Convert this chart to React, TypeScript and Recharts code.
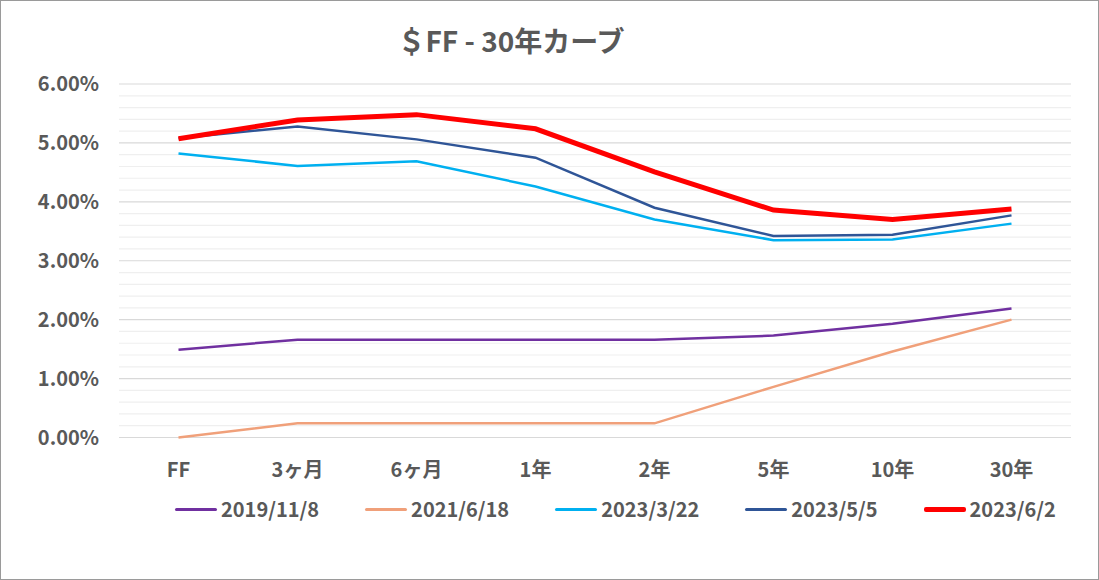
import { LineChart, Line, XAxis, YAxis, CartesianGrid, ReferenceLine } from 'recharts'

// Tenors along the curve
const categories = ['FF', '3ヶ月', '6ヶ月', '1年', '2年', '5年', '10年', '30年']

// Yields in % per date
const y20191108 = [1.49, 1.66, 1.66, 1.66, 1.66, 1.73, 1.93, 2.19]
const y20210618 = [0.0, 0.24, 0.24, 0.24, 0.24, 0.86, 1.46, 2.0]
const y20230322 = [4.82, 4.61, 4.69, 4.26, 3.7, 3.35, 3.36, 3.63]
const y20230505 = [5.08, 5.28, 5.06, 4.75, 3.9, 3.42, 3.44, 3.77]
const y20230602 = [5.07, 5.39, 5.48, 5.24, 4.51, 3.86, 3.7, 3.88]

const majorTicks = [0, 1, 2, 3, 4, 5, 6]
const minorTicks = [0.2, 0.4, 0.6, 0.8, 1.2, 1.4, 1.6, 1.8, 2.2, 2.4, 2.6, 2.8, 3.2, 3.4, 3.6, 3.8, 4.2, 4.4, 4.6, 4.8, 5.2, 5.4, 5.6, 5.8]

const SERIES = [
  { key: 's1', name: '2019/11/8', values: y20191108, color: '#7030a0', width: 2.5 },
  { key: 's2', name: '2021/6/18', values: y20210618, color: '#f0a07a', width: 2.5 },
  { key: 's3', name: '2023/3/22', values: y20230322, color: '#00b0f0', width: 2.5 },
  { key: 's4', name: '2023/5/5', values: y20230505, color: '#2f5597', width: 2.5 },
  { key: 's5', name: '2023/6/2', values: y20230602, color: '#ff0000', width: 5 },
]

const FONT = '"Noto Sans CJK JP", "Noto Sans", sans-serif'
const TEXT = '#595959'

export default function App() {
  const data = categories.map((c, i) => {
    const row: Record<string, string | number> = { tenor: c }
    SERIES.forEach((s) => {
      row[s.key] = s.values[i]
    })
    return row
  })

  return (
    <div
      style={{
        position: 'relative',
        width: 1099,
        height: 580,
        boxSizing: 'border-box',
        border: '1px solid #9a9a9a',
        background: '#fff',
        fontFamily: FONT,
      }}
    >
      <style>{'body{margin:0}'}</style>

      {/* Title */}
      <div
        style={{
          position: 'absolute',
          left: 0,
          top: 25,
          width: 1020,
          textAlign: 'center',
          fontSize: 28,
          lineHeight: '28px',
          fontWeight: 'bold',
          color: TEXT,
        }}
      >
        ＄FF - 30年カーブ
      </div>

      <LineChart
        width={1097}
        height={578}
        data={data}
        margin={{ top: 83, right: 27, left: 0, bottom: 101.5 }}
      >
        <CartesianGrid vertical={false} stroke="#d9d9d9" strokeWidth={1.2} />
        {minorTicks.map((v) => (
          <ReferenceLine key={v} y={v} stroke="#efefef" strokeWidth={1.2} />
        ))}
        <XAxis
          dataKey="tenor"
          axisLine={false}
          tickLine={false}
          tickSize={0}
          tickMargin={25}
          height={40}
          interval={0}
          padding={{ left: 59.5, right: 59.5 }}
          tick={{ fill: TEXT, fontSize: 20, fontWeight: 'bold', fontFamily: FONT }}
        />
        <YAxis
          width={118}
          domain={[0, 6]}
          ticks={majorTicks}
          axisLine={false}
          tickLine={false}
          tickSize={0}
          tickMargin={20}
          tick={{ fill: TEXT, fontSize: 20, fontWeight: 'bold', fontFamily: FONT }}
          tickFormatter={(v) => `${Number(v).toFixed(2)}%`}
        />
        {SERIES.map((s) => (
          <Line
            key={s.key}
            dataKey={s.key}
            name={s.name}
            type="linear"
            stroke={s.color}
            strokeWidth={s.width}
            dot={false}
            activeDot={false}
            isAnimationActive={false}
          />
        ))}
      </LineChart>

      {/* Legend */}
      <div
        style={{
          position: 'absolute',
          left: 174,
          top: 498,
          height: 20,
          display: 'flex',
          alignItems: 'center',
          gap: 46,
          fontSize: 20,
          lineHeight: '20px',
          fontWeight: 'bold',
          color: TEXT,
        }}
      >
        {SERIES.map((s) => (
          <div key={s.key} style={{ display: 'flex', alignItems: 'center', gap: 4 }}>
            <div style={{ width: 42, height: s.width === 5 ? 5 : 3, background: s.color, borderRadius: 2 }} />
            <span>{s.name}</span>
          </div>
        ))}
      </div>
    </div>
  )
}
